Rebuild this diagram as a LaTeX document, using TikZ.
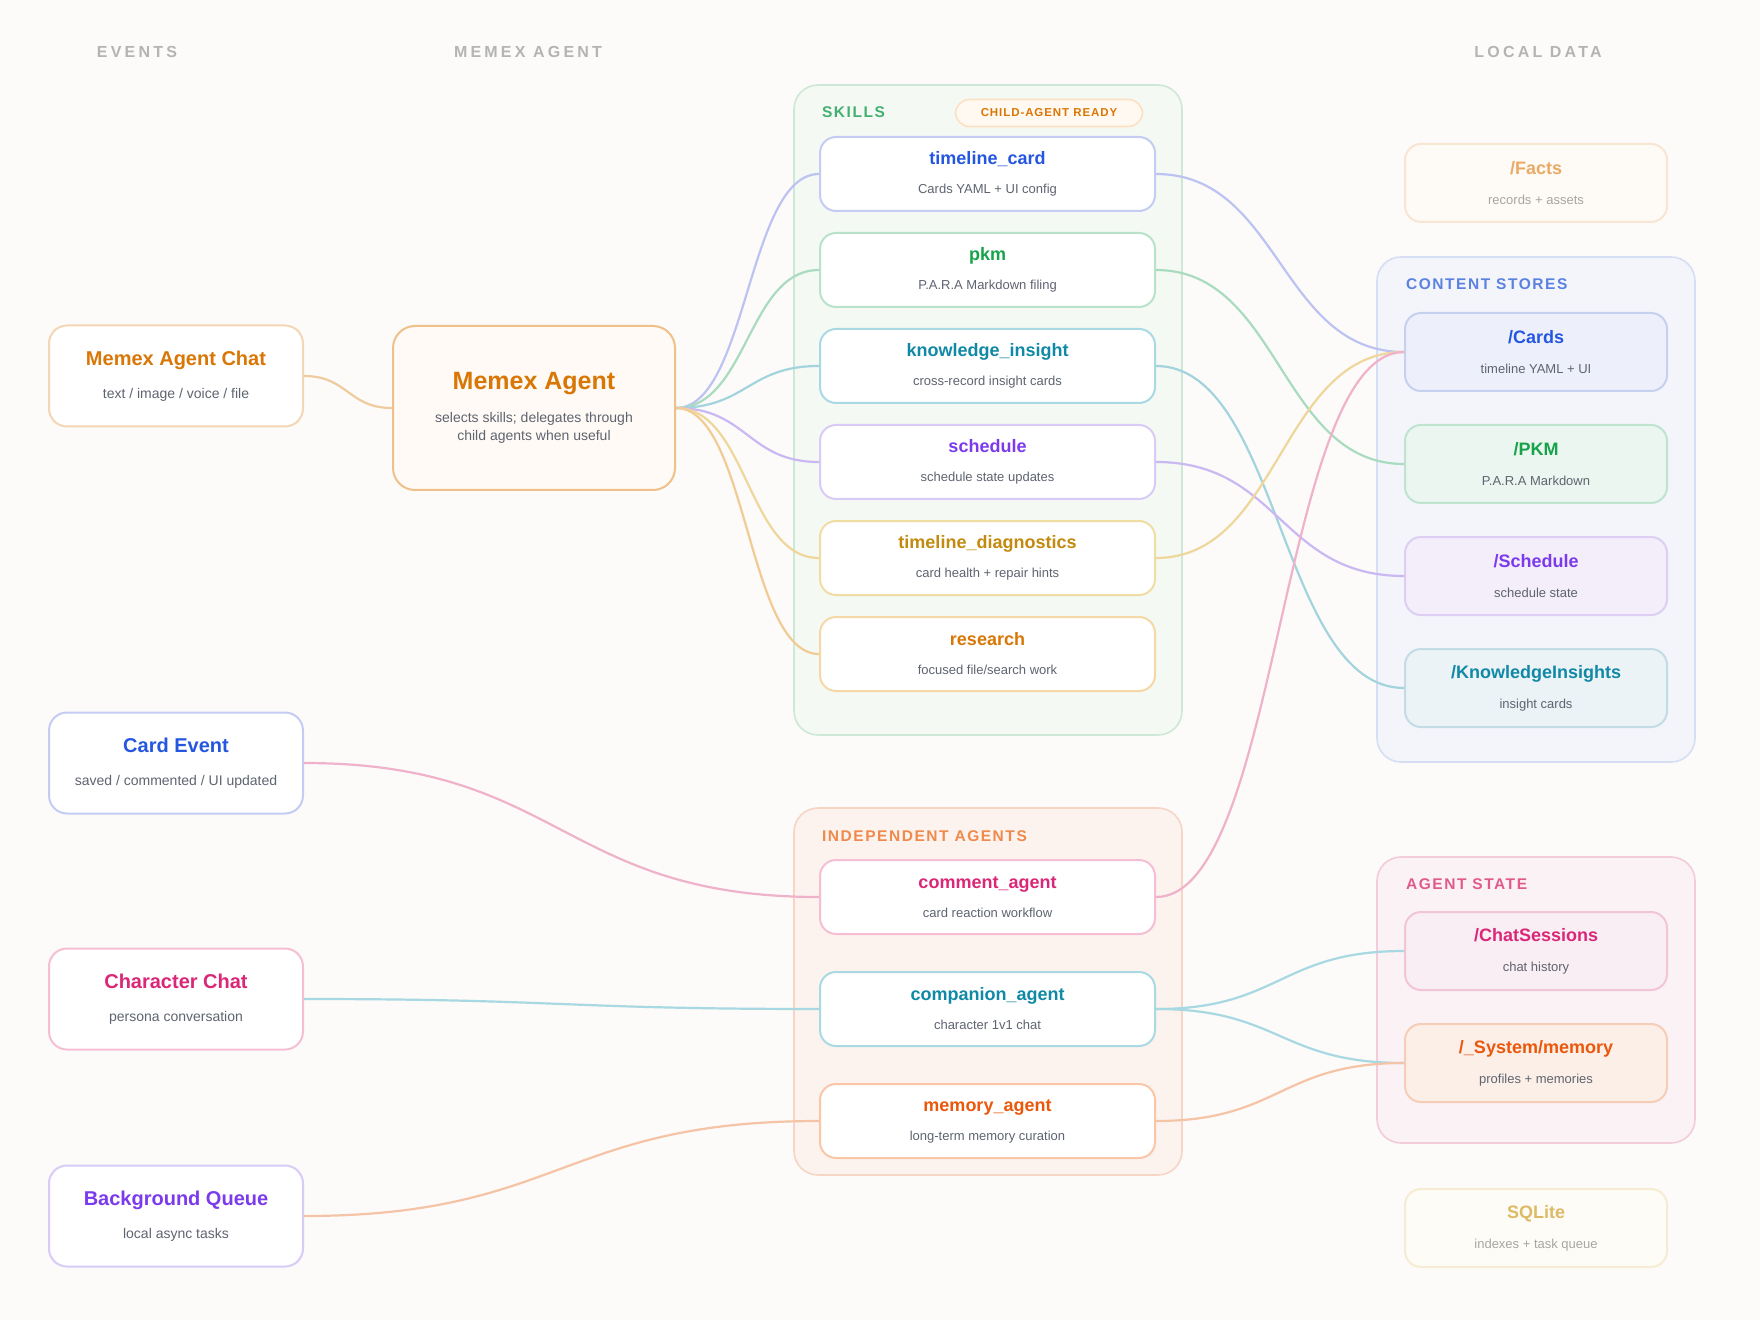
\documentclass[tikz,border=0pt]{standalone}
\usepackage{fontspec}
\setmainfont{Liberation Sans}
\usetikzlibrary{calc}

\definecolor{bgcol}{HTML}{FCFBF9}
\definecolor{hdrgray}{HTML}{B4B4B4}
\definecolor{subgray}{HTML}{5E6470}
\definecolor{corange}{HTML}{D97706}
\definecolor{cblue}{HTML}{2456E0}
\definecolor{cpink}{HTML}{DB2777}
\definecolor{cpurple}{HTML}{7C3AED}
\definecolor{cgreen}{HTML}{16A34A}
\definecolor{cteal}{HTML}{1089A6}
\definecolor{cgold}{HTML}{C28A0E}
\definecolor{cdeep}{HTML}{EA580C}
% borders
\definecolor{bdorange}{HTML}{F4D6B4}
\definecolor{bdagent}{HTML}{F0C08A}
\definecolor{bdblue}{HTML}{C5CCF4}
\definecolor{bdpink}{HTML}{F6BED5}
\definecolor{bdpurple}{HTML}{D8CBF7}
\definecolor{bdgreen}{HTML}{B9E2CB}
\definecolor{bdteal}{HTML}{A9D9E2}
\definecolor{bdgold}{HTML}{F0DDA4}
\definecolor{bdres}{HTML}{F6D7A6}
\definecolor{bddeep}{HTML}{F9C7A8}
% groups
\definecolor{skfill}{HTML}{F5F9F3}
\definecolor{skdraw}{HTML}{CDE8D6}
\definecolor{sklbl}{HTML}{43B072}
\definecolor{infill}{HTML}{FCF3EE}
\definecolor{indraw}{HTML}{F6D5C6}
\definecolor{inlbl}{HTML}{EF8A4C}
\definecolor{csfill}{HTML}{F3F5FB}
\definecolor{csdraw}{HTML}{D6DEF3}
\definecolor{cslbl}{HTML}{5B82E0}
\definecolor{asfill}{HTML}{FBF2F5}
\definecolor{asdraw}{HTML}{F2CCD9}
\definecolor{aslbl}{HTML}{E05A8C}
% stores
\definecolor{fcards}{HTML}{EDF0FA}
\definecolor{dcards}{HTML}{C8D0F0}
\definecolor{fpkm}{HTML}{ECF6F0}
\definecolor{dpkm}{HTML}{BFE3CE}
\definecolor{fsched}{HTML}{F3EEFA}
\definecolor{dsched}{HTML}{DCCFF3}
\definecolor{fki}{HTML}{ECF3F6}
\definecolor{dki}{HTML}{C2DCE5}
\definecolor{fchat}{HTML}{F9EEF3}
\definecolor{dchat}{HTML}{F1C5D6}
\definecolor{fsys}{HTML}{FCEFE8}
\definecolor{dsys}{HTML}{F6CDB6}
\definecolor{ffacts}{HTML}{FEFAF5}
\definecolor{dfacts}{HTML}{F8E6D4}
\definecolor{tfacts}{HTML}{EAAA66}
\definecolor{fsql}{HTML}{FEFCF6}
\definecolor{dsql}{HTML}{F5ECD3}
\definecolor{tsql}{HTML}{DDBA66}
\definecolor{fadegray}{HTML}{A6A6A6}
\definecolor{pillfill}{HTML}{FFF9F1}
\definecolor{pilldraw}{HTML}{FBE0C2}
% links
\definecolor{lchat}{HTML}{F1CBA0}
\definecolor{ltl}{HTML}{BCC3F2}
\definecolor{lpkm}{HTML}{A9DBBF}
\definecolor{lki}{HTML}{A3D4DE}
\definecolor{lsched}{HTML}{CAB8F2}
\definecolor{ldiag}{HTML}{EFD79C}
\definecolor{lres}{HTML}{F2CB94}
\definecolor{lcomment}{HTML}{EFB2CA}
\definecolor{lcomp}{HTML}{A8D8E1}
\definecolor{lmem}{HTML}{F5C4A6}

\newcommand{\evtitle}[2]{{\fontsize{10}{16.5}\selectfont\bfseries\color{#1}#2}}
\newcommand{\sktitle}[2]{{\fontsize{9}{14.5}\selectfont\bfseries\color{#1}#2}}

\begin{document}
\begin{tikzpicture}[x=0.5pt, y=-0.5pt,
  box/.style={draw, line width=1pt, align=center, inner sep=0pt, text=subgray},
  evbox/.style={box, fill=white, rounded corners=9pt, minimum width=127pt,
    minimum height=50.5pt, font=\fontsize{7}{16.5}\selectfont},
  skbox/.style={box, fill=white, rounded corners=8pt, minimum width=167.5pt,
    minimum height=37pt, font=\fontsize{6.5}{14.5}\selectfont},
  stbox/.style={box, rounded corners=8pt, minimum width=131pt,
    minimum height=39pt, font=\fontsize{6.5}{15}\selectfont},
  grp/.style={draw, line width=0.8pt, rounded corners=12pt, inner sep=0pt},
  grplbl/.style={anchor=west, font=\fontsize{7.75}{9}\selectfont\bfseries\addfontfeatures{LetterSpace=10}},
  hdr/.style={text=hdrgray, font=\fontsize{8}{9}\selectfont\bfseries\addfontfeatures{LetterSpace=20}},
  link/.style={draw=#1, line width=1.1pt,
    to path={let \p1=(\tikztostart), \p2=(\tikztotarget) in
      .. controls ({0.5*\x1+0.5*\x2},\y1) and ({0.5*\x1+0.5*\x2},\y2) .. (\tikztotarget)}}]

  \fill[bgcol] (0,0) rectangle (1760,1320);
  \useasboundingbox (0,0) rectangle (1760,1320);

  \node[hdr] (hevents) at (137,52) {EVENTS};
  \node[hdr] (hmemex) at (528,52) {MEMEX AGENT};
  \node[hdr] (hlocal) at (1538,52) {LOCAL DATA};

  % groups
  \node[grp, fill=skfill, draw=skdraw, minimum width=194pt, minimum height=325pt] (skills) at (988,410) {};
  \node[grplbl, text=sklbl] (lskills) at (815,112) {SKILLS};
  \node[draw=pilldraw, fill=pillfill, line width=0.8pt, rounded corners=7pt, minimum width=93.5pt,
    minimum height=13.5pt, inner sep=0pt, text=corange,
    font=\fontsize{5.75}{7}\selectfont\bfseries\addfontfeatures{LetterSpace=8}] (ready) at (1049,113) {CHILD-AGENT READY};

  \node[grp, fill=infill, draw=indraw, minimum width=194pt, minimum height=183.5pt] (indep) at (988,991.5) {};
  \node[grplbl, text=inlbl] (lindep) at (815,836) {INDEPENDENT AGENTS};

  \node[grp, fill=csfill, draw=csdraw, minimum width=159pt, minimum height=252.5pt] (content) at (1536,509.5) {};
  \node[grplbl, text=cslbl] (lcontent) at (1399,284) {CONTENT STORES};

  \node[grp, fill=asfill, draw=asdraw, minimum width=159pt, minimum height=143pt] (astate) at (1536,1000) {};
  \node[grplbl, text=aslbl] (lastate) at (1399,884) {AGENT STATE};

  % events
  \node[evbox, draw=bdorange] (chat) at (176,376) {\evtitle{corange}{Memex Agent Chat}\\ text / image / voice / file};
  \node[evbox, draw=bdblue] (cardev) at (176,763) {\evtitle{cblue}{Card Event}\\ saved / commented / UI updated};
  \node[evbox, draw=bdpink] (charchat) at (176,999) {\evtitle{cpink}{Character Chat}\\ persona conversation};
  \node[evbox, draw=bdpurple] (bgq) at (176,1216) {\evtitle{cpurple}{Background Queue}\\ local async tasks};

  % agent
  \node[box, fill=orange!4!white, draw=bdagent, rounded corners=11pt, minimum width=141pt, minimum height=82pt,
    font=\fontsize{7}{9}\selectfont] (agent) at (534,408)
    {{\fontsize{12.5}{9}\selectfont\bfseries\color{corange}Memex Agent}\\[7.5pt] selects skills; delegates through\\ child agents when useful};

  % skills
  \node[skbox, draw=bdblue] (tlcard) at (987.5,174) {\sktitle{cblue}{timeline\_card}\\ Cards YAML + UI config};
  \node[skbox, draw=bdgreen] (pkm) at (987.5,270) {\sktitle{cgreen}{pkm}\\ P.A.R.A Markdown filing};
  \node[skbox, draw=bdteal] (kins) at (987.5,366) {\sktitle{cteal}{knowledge\_insight}\\ cross-record insight cards};
  \node[skbox, draw=bdpurple] (sched) at (987.5,462) {\sktitle{cpurple}{schedule}\\ schedule state updates};
  \node[skbox, draw=bdgold] (tldiag) at (987.5,558) {\sktitle{cgold}{timeline\_diagnostics}\\ card health + repair hints};
  \node[skbox, draw=bdres] (research) at (987.5,654) {\sktitle{corange}{research}\\ focused file/search work};

  % independent agents
  \node[skbox, draw=bdpink] (comment) at (987.5,897) {\sktitle{cpink}{comment\_agent}\\ card reaction workflow};
  \node[skbox, draw=bdteal] (companion) at (987.5,1009) {\sktitle{cteal}{companion\_agent}\\ character 1v1 chat};
  \node[skbox, draw=bddeep] (memory) at (987.5,1121) {\sktitle{cdeep}{memory\_agent}\\ long-term memory curation};

  % local data
  \node[stbox, fill=ffacts, draw=dfacts, text=fadegray] (facts) at (1536,183) {\sktitle{tfacts}{/Facts}\\ records + assets};
  \node[stbox, fill=fcards, draw=dcards] (cards) at (1536,352) {\sktitle{cblue}{/Cards}\\ timeline YAML + UI};
  \node[stbox, fill=fpkm, draw=dpkm] (pkmst) at (1536,464) {\sktitle{cgreen}{/PKM}\\ P.A.R.A Markdown};
  \node[stbox, fill=fsched, draw=dsched] (schedst) at (1536,576) {\sktitle{cpurple}{/Schedule}\\ schedule state};
  \node[stbox, fill=fki, draw=dki] (kist) at (1536,688) {\sktitle{cteal}{/KnowledgeInsights}\\ insight cards};
  \node[stbox, fill=fchat, draw=dchat] (chatsess) at (1536,951) {\sktitle{cpink}{/ChatSessions}\\ chat history};
  \node[stbox, fill=fsys, draw=dsys] (sysmem) at (1536,1063) {\sktitle{cdeep}{/\_System/memory}\\ profiles + memories};
  \node[stbox, fill=fsql, draw=dsql, text=fadegray] (sqlite) at (1536,1228) {\sktitle{tsql}{SQLite}\\ indexes + task queue};

  % links
  \draw[link=lchat] (chat.east) to (agent.west);
  \draw[link=ltl] (agent.east) to (tlcard.west);
  \draw[link=lpkm] (agent.east) to (pkm.west);
  \draw[link=lki] (agent.east) to (kins.west);
  \draw[link=lsched] (agent.east) to (sched.west);
  \draw[link=ldiag] (agent.east) to (tldiag.west);
  \draw[link=lres] (agent.east) to (research.west);

  \draw[link=ltl] (tlcard.east) to (cards.west);
  \draw[link=lpkm] (pkm.east) to (pkmst.west);
  \draw[link=lki] (kins.east) to (kist.west);
  \draw[link=lsched] (sched.east) to (schedst.west);
  \draw[link=ldiag] (tldiag.east) to (cards.west);

  \draw[link=lcomment] (cardev.east) to (comment.west);
  \draw[link=lcomp] (charchat.east) to (companion.west);
  \draw[link=lmem] (bgq.east) to (memory.west);

  \draw[link=lcomment] (comment.east) to (cards.west);
  \draw[link=lcomp] (companion.east) to (chatsess.west);
  \draw[link=lcomp] (companion.east) to (sysmem.west);
  \draw[link=lmem] (memory.east) to (sysmem.west);
\end{tikzpicture}
\end{document}
